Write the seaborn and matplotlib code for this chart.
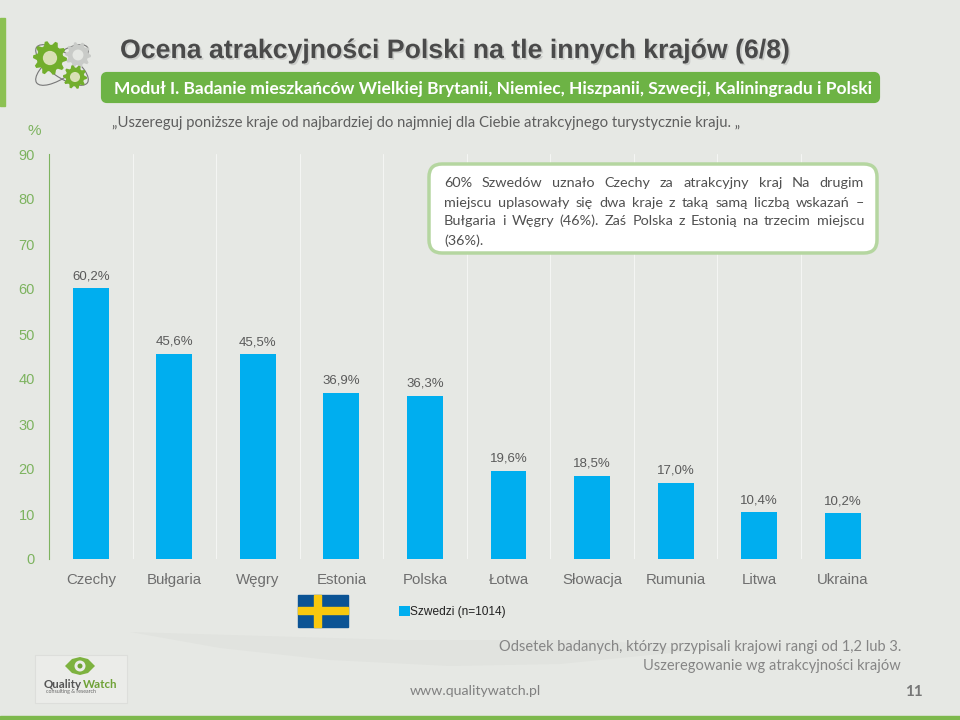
import numpy as np
import matplotlib
matplotlib.use("Agg")
import matplotlib.pyplot as plt
import matplotlib.patheffects as pe
from matplotlib.patches import FancyBboxPatch, Rectangle, Polygon, Ellipse, Circle
import seaborn as sns
import pandas as pd

countries = ["Czechy", "Bułgaria", "Węgry", "Estonia", "Polska", "Łotwa", "Słowacja", "Rumunia", "Litwa", "Ukraina"]
values = [60.2, 45.6, 45.5, 36.9, 36.3, 19.6, 18.5, 17.0, 10.4, 10.2]
value_labels = ["60,2%", "45,6%", "45,5%", "36,9%", "36,3%", "19,6%", "18,5%", "17,0%", "10,4%", "10,2%"]
y_ticks = [0, 10, 20, 30, 40, 50, 60, 70, 80, 90]
series_name = "Szwedzi (n=1014)"
title = "Ocena atrakcyjności Polski na tle innych krajów (6/8)"
banner = "Moduł I. Badanie mieszkańców Wielkiej Brytanii, Niemiec, Hiszpanii, Szwecji, Kaliningradu i Polski"
question = "„Uszereguj poniższe kraje od najbardziej do najmniej dla Ciebie atrakcyjnego turystycznie kraju. „"
callout_lines = [
    "60% Szwedów uznało Czechy za atrakcyjny kraj Na drugim",
    "miejscu uplasowały się dwa kraje z taką samą liczbą wskazań –",
    "Bułgaria i Węgry (46%).  Zaś Polska z Estonią na trzecim miejscu",
    "(36%).",
]
notes = ["Odsetek badanych, którzy przypisali krajowi rangi od 1,2 lub 3.", "Uszeregowanie wg atrakcyjności krajów"]

BG = "#E6E8E4"
GREEN = "#6DB345"
BLUE = "#00AEEF"
AXGREEN = "#7DB35F"
GREY = "#6E6E6E"

sns.set_theme(style="white")
plt.rcParams["font.family"] = ["Liberation Sans", "DejaVu Sans"]

fig = plt.figure(figsize=(9.6, 7.2), dpi=100, facecolor=BG)
W, H = 960, 720

under = fig.add_axes([0, 0, 1, 1], facecolor="none")
under.set_xlim(0, W)
under.set_ylim(H, 0)
under.axis("off")
under.add_patch(Polygon([(130, 632), (220, 648), (330, 660), (450, 666), (560, 664), (700, 650),
                         (600, 640), (400, 640)], closed=True, fc="#E1E3DF", ec="none"))

ax = fig.add_axes([49 / W, 1 - 559 / H, (884.5 - 49) / W, (559 - 154) / H], facecolor="none")
df = pd.DataFrame({"kraj": countries, "wartosc": values})
sns.barplot(data=df, x="kraj", y="wartosc", color=BLUE, saturation=1, width=0.43, ax=ax, label=series_name,
            zorder=3, edgecolor="none", linewidth=0, clip_on=False)
ax.set_xlim(-0.5, 9.5)
ax.set_ylim(0, 90)
ax.set_yticks(y_ticks)
ax.set_xlabel("")
ax.set_ylabel("")
ax.tick_params(axis="y", length=0, labelsize=10.5, labelcolor=AXGREEN, pad=10)
ax.tick_params(axis="x", length=0, labelsize=10.8, labelcolor=GREY, pad=10)
ax.set_xticks(np.arange(0.5, 9.5), minor=True)
ax.tick_params(axis="x", which="minor", length=0)
ax.grid(False)
ax.grid(True, axis="x", which="minor", color="#F4F5F3", linewidth=0.8, zorder=1)
for s in ["top", "right", "bottom"]:
    ax.spines[s].set_visible(False)
ax.spines["left"].set_color(AXGREEN)
ax.spines["left"].set_linewidth(0.8)
for i, (v, t) in enumerate(zip(values, value_labels)):
    ax.annotate(t, (i, v), xytext=(0, 12), textcoords="offset pixels", ha="center", va="center",
                fontsize=9.5, color="#5A5A5A")
ax.legend(loc="center left", bbox_to_anchor=(393.5 / W, 1 - 612 / H), bbox_transform=fig.transFigure,
          frameon=False, fontsize=8.6, handlelength=0.9, handleheight=0.9, handletextpad=0.0,
          borderpad=0, labelcolor="#222222")

ov = fig.add_axes([0, 0, 1, 1], facecolor="none")
ov.set_xlim(0, W)
ov.set_ylim(H, 0)
ov.axis("off")

# edges
ov.add_patch(Rectangle((0, 18), 4.5, 88, color="#8CC152"))
ov.add_patch(Rectangle((0, 716), 960, 4, color="#7DB84C"))

def T(x, y, s, **k):
    k.setdefault("va", "center")
    return ov.text(x, y, s, **k)

# title block
T(120, 51, title, fontsize=19.2, fontweight="bold", color="#4A4A4A", family=["Liberation Sans"],
  path_effects=[pe.withSimplePatchShadow(offset=(1.2, -1.2), shadow_rgbFace="#AAAAAA", alpha=0.45)])
ov.add_patch(FancyBboxPatch((103, 74), 775, 27, boxstyle="round,pad=0,rounding_size=4", mutation_aspect=1,
                            fc=GREEN, ec=GREEN, lw=3, joinstyle="round"))
T(114, 89, banner, fontsize=12.5, fontweight="bold", color="white", family=["Lato"])
T(112, 123, question, fontsize=10.7, color="#5E5E5E", family=["Lato"])
T(27, 131, "%", fontsize=11, color=AXGREEN)

# callout, justified line by line
ov.add_patch(FancyBboxPatch((436, 171), 434, 75, boxstyle="round,pad=7,rounding_size=13", fc="white",
                            ec="#B5D6A0", lw=2.5, zorder=5))
line_y = [183, 203, 221, 241]
LEFT, RIGHT = 444, 864
rend = fig.canvas.get_renderer()
for ln, y in zip(callout_lines, line_y):
    words = ln.split()
    kw = dict(fontsize=10.4, color="#505050", family=["Lato"], zorder=6)
    widths = []
    for w in words:
        t = T(0, y, w, **kw)
        widths.append(t.get_window_extent(rend).width)
        t.remove()
    justify = len(words) > 1
    gap = (RIGHT - LEFT - sum(widths)) / (len(words) - 1) if justify else 0
    x = LEFT
    for w, wd in zip(words, widths):
        T(x, y, w, **kw)
        x += wd + gap

# flag
ov.add_patch(Rectangle((298, 595), 50, 32, color="#0B5394"))
ov.add_patch(Rectangle((298, 607), 50, 7, color="#F9C80E"))
ov.add_patch(Rectangle((314, 595), 7, 32, color="#F9C80E"))

# footer
for s, y in zip(notes, [647, 666]):
    T(901, y, s, fontsize=10.5, color="#858585", ha="right", family=["Lato"])
T(410, 691, "www.qualitywatch.pl", fontsize=10.2, color="#808080", family=["Lato"])
T(905, 692, "11", fontsize=11, color="#777777", fontweight="bold", family=["Lato"])

# logo
ov.add_patch(Rectangle((35, 655), 92, 48, fc="#EBECE9", ec="#DDDEDB", lw=0.8))
ov.add_patch(Polygon([(65, 666), (72, 659), (80, 657), (88, 659), (95, 666), (88, 673), (80, 675), (72, 673)],
                     closed=True, fc="#7DB23F", ec="none"))
ov.add_patch(Circle((80, 666), 5.5, fc="#EBECE9", ec="none"))
ov.add_patch(Circle((80, 666), 2.5, fc="#6FA236", ec="none"))
T(44, 684, "Quality", fontsize=8.3, fontweight="bold", color="#555555", family=["Lato"])
T(82.5, 684, "Watch", fontsize=8.3, fontweight="bold", color="#6FA236", family=["Lato"])
T(46, 692, "consulting & research", fontsize=3.8, color="#666666", family=["Lato"])

# gears
def gear(cx, cy, r, teeth, col, hole):
    a = np.linspace(0, 2 * np.pi, teeth * 4, endpoint=False)
    rad = np.where(np.arange(teeth * 4) % 4 < 2, r, r * 0.78)
    ov.add_patch(Polygon(np.c_[cx + rad * np.cos(a), cy + rad * np.sin(a)], closed=True, fc=col, ec="none", zorder=3))
    ov.add_patch(Circle((cx, cy), r * 0.42, fc=hole, ec="none", zorder=4))

for ang in (-35, 35):
    ov.add_patch(Ellipse((62, 65), 62, 24, angle=ang, fc="none", ec="#777777", lw=0.8, zorder=2))
gear(78, 55, 13, 10, "#C9CBC8", "#E5E7E3")
gear(50, 58, 17, 10, "#72AE2C", "#D9E0B5")
gear(75, 77, 12, 10, "#72AE2C", "#D9E0B5")

fig.savefig("out.png", dpi=100, facecolor=BG)
